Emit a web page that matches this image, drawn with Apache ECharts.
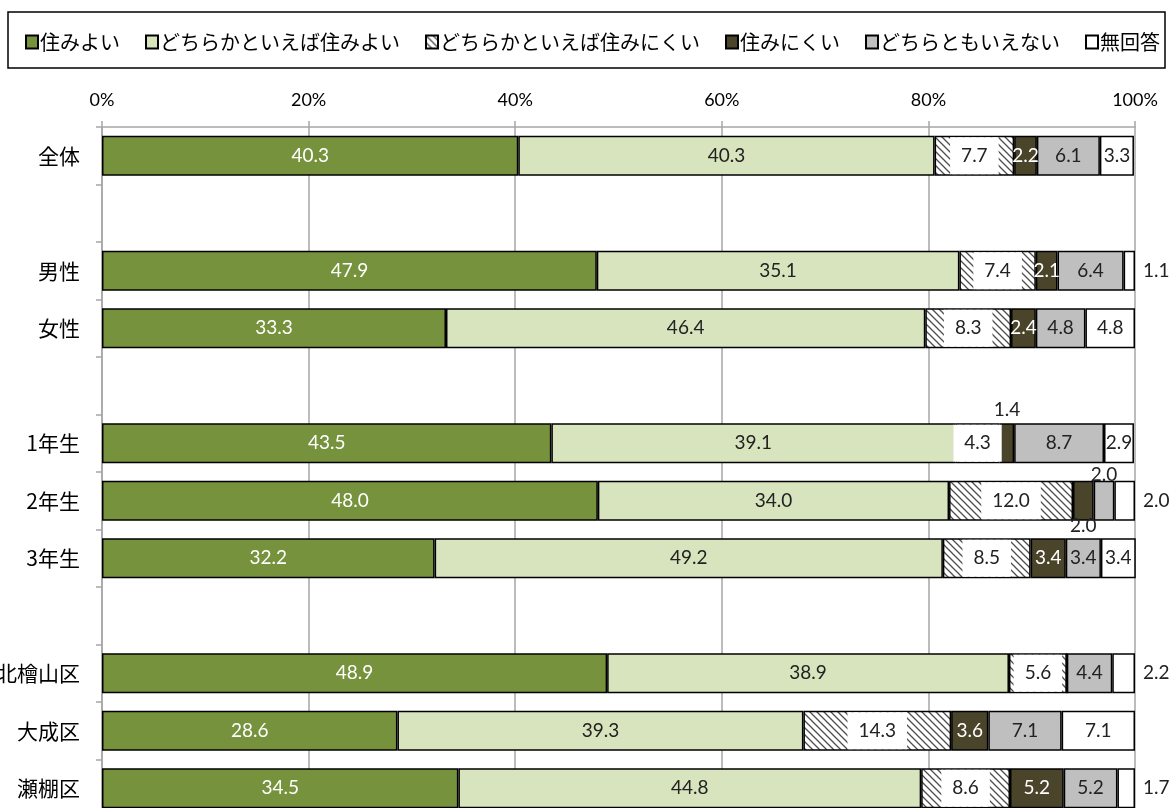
<!DOCTYPE html>
<html>
<head>
<meta charset="utf-8">
<script src="https://cdn.jsdelivr.net/npm/echarts@6/dist/echarts.min.js"></script>
<style>
  html, body { margin: 0; padding: 0; background: #fff; }
  #chart { width: 1173px; height: 808px; }
</style>
</head>
<body>
<div id="chart"></div>
<script>
  // categories (blank rows are spacers)
  const categories = ['全体', ' ', '男性', '女性', '  ', '1年生', '2年生', '3年生', '   ', '北檜山区', '大成区', '瀬棚区']
  const seriesNames = ['住みよい', 'どちらかといえば住みよい', 'どちらかといえば住みにくい', '住みにくい', 'どちらともいえない', '無回答']

  const sumiyoi     = [40.3, null, 47.9, 33.3, null, 43.5, 48.0, 32.2, null, 48.9, 28.6, 34.5]
  const yayaSumiyoi = [40.3, null, 35.1, 46.4, null, 39.1, 34.0, 49.2, null, 38.9, 39.3, 44.8]
  const yayaNikui   = [7.7, null, 7.4, 8.3, null, 4.3, 12.0, 8.5, null, 5.6, 14.3, 8.6]
  const nikui       = [2.2, null, 2.1, 2.4, null, 1.4, 2.0, 3.4, null, 0, 3.6, 5.2]
  const dochiramo   = [6.1, null, 6.4, 4.8, null, 8.7, 2.0, 3.4, null, 4.4, 7.1, 5.2]
  const mukaitou    = [3.3, null, 1.1, 4.8, null, 2.9, 2.0, 3.4, null, 2.2, 7.1, 1.7]

  const xTicks = [0, 20, 40, 60, 80, 100]

  // hatch pattern for どちらかといえば住みにくい
  function hatch() {
    const c = document.createElement('canvas')
    c.width = 7
    c.height = 7
    const ctx = c.getContext('2d')
    ctx.fillStyle = '#fff'
    ctx.fillRect(0, 0, 7, 7)
    ctx.strokeStyle = '#4d4d4d'
    ctx.lineWidth = 1.3
    ctx.beginPath()
    ctx.moveTo(-1, -1); ctx.lineTo(8, 8)
    ctx.moveTo(-1, 6); ctx.lineTo(1, 8)
    ctx.moveTo(6, -1); ctx.lineTo(8, 1)
    ctx.stroke()
    return { image: c, repeat: 'repeat' }
  }

  const numFont = 'Lato, "Open Sans", sans-serif'
  const jpFont = '"Noto Sans CJK JP", sans-serif'

  const colors = ['#76923C', '#D7E4BD', hatch(), '#4A452A', '#BFBFBF', '#FFFFFF']
  const labelColors = ['#fff', '#222', '#222', '#fff', '#222', '#222']
  const allData = [sumiyoi, yayaSumiyoi, yayaNikui, nikui, dochiramo, mukaitou]

  // label placement tweaks for thin segments: [seriesIndex, categoryIndex, position, distance]
  const labelTweaks = [
    [3, 5, 'top', 4],
    [3, 6, 'bottom', -4],
    [4, 6, 'top', -4],
    [5, 2, 'right', 8],
    [5, 6, 'right', 8],
    [5, 9, 'right', 8],
    [5, 11, 'right', 8]
  ]

  function buildData(si) {
    return allData[si].map(function(v, ci) {
      const t = labelTweaks.find(function(k) { return k[0] === si && k[1] === ci })
      if (!t || v == null) return v
      return { value: v, label: { position: t[2], distance: t[3], color: '#222' } }
    })
  }

  const chart = echarts.init(document.getElementById('chart'))
  chart.setOption({
    backgroundColor: '#fff',
    animation: false,
    graphic: [{
      type: 'rect',
      shape: { x: 8, y: 12, width: 1157, height: 56 },
      style: { fill: 'none', stroke: '#000', lineWidth: 1.5 }
    }],
    legend: {
      left: 20,
      top: 27,
      itemGap: 25,
      itemWidth: 12,
      itemHeight: 13,
      icon: 'rect',
      textStyle: { fontFamily: jpFont, fontSize: 20, color: '#000', padding: [0, 0, 0, -3] },
      data: seriesNames
    },
    grid: {
      left: 102,
      right: 38,
      top: 127,
      height: 690,
      outerBoundsMode: 'none'
    },
    xAxis: {
      type: 'value',
      position: 'top',
      min: xTicks[0],
      max: xTicks[xTicks.length - 1],
      interval: 20,
      axisLine: { show: true, lineStyle: { color: '#A6A6A6', width: 1.5 } },
      axisTick: { show: true, length: 6, lineStyle: { color: '#A6A6A6', width: 1.5 } },
      splitLine: { show: true, lineStyle: { color: '#A6A6A6', width: 1.5 } },
      axisLabel: { formatter: '{value}%', fontFamily: numFont, fontSize: 18, color: '#000', margin: 18 }
    },
    yAxis: {
      type: 'category',
      inverse: true,
      data: categories,
      axisLine: { show: true, lineStyle: { color: '#A6A6A6', width: 1.5 } },
      axisTick: { show: true, length: 6, lineStyle: { color: '#A6A6A6', width: 1.5 } },
      axisLabel: { fontFamily: jpFont, fontSize: 21, color: '#000', margin: 22 }
    },
    series: seriesNames.map(function(name, si) {
      return {
        name: name,
        type: 'bar',
        stack: 'total',
        barWidth: 40,
        itemStyle: { color: colors[si], borderColor: '#000', borderWidth: 1.5 },
        label: {
          show: true,
          position: 'inside',
          fontFamily: numFont,
          fontSize: 19,
          color: labelColors[si],
          backgroundColor: si === 2 ? '#fff' : 'transparent',
          padding: si === 2 ? [9, 11] : 0,
          formatter(p) {
            return p.value > 0 ? p.value.toFixed(1) : ''
          }
        },
        labelLayout: { hideOverlap: false },
        data: buildData(si)
      }
    })
  })
</script>
</body>
</html>
